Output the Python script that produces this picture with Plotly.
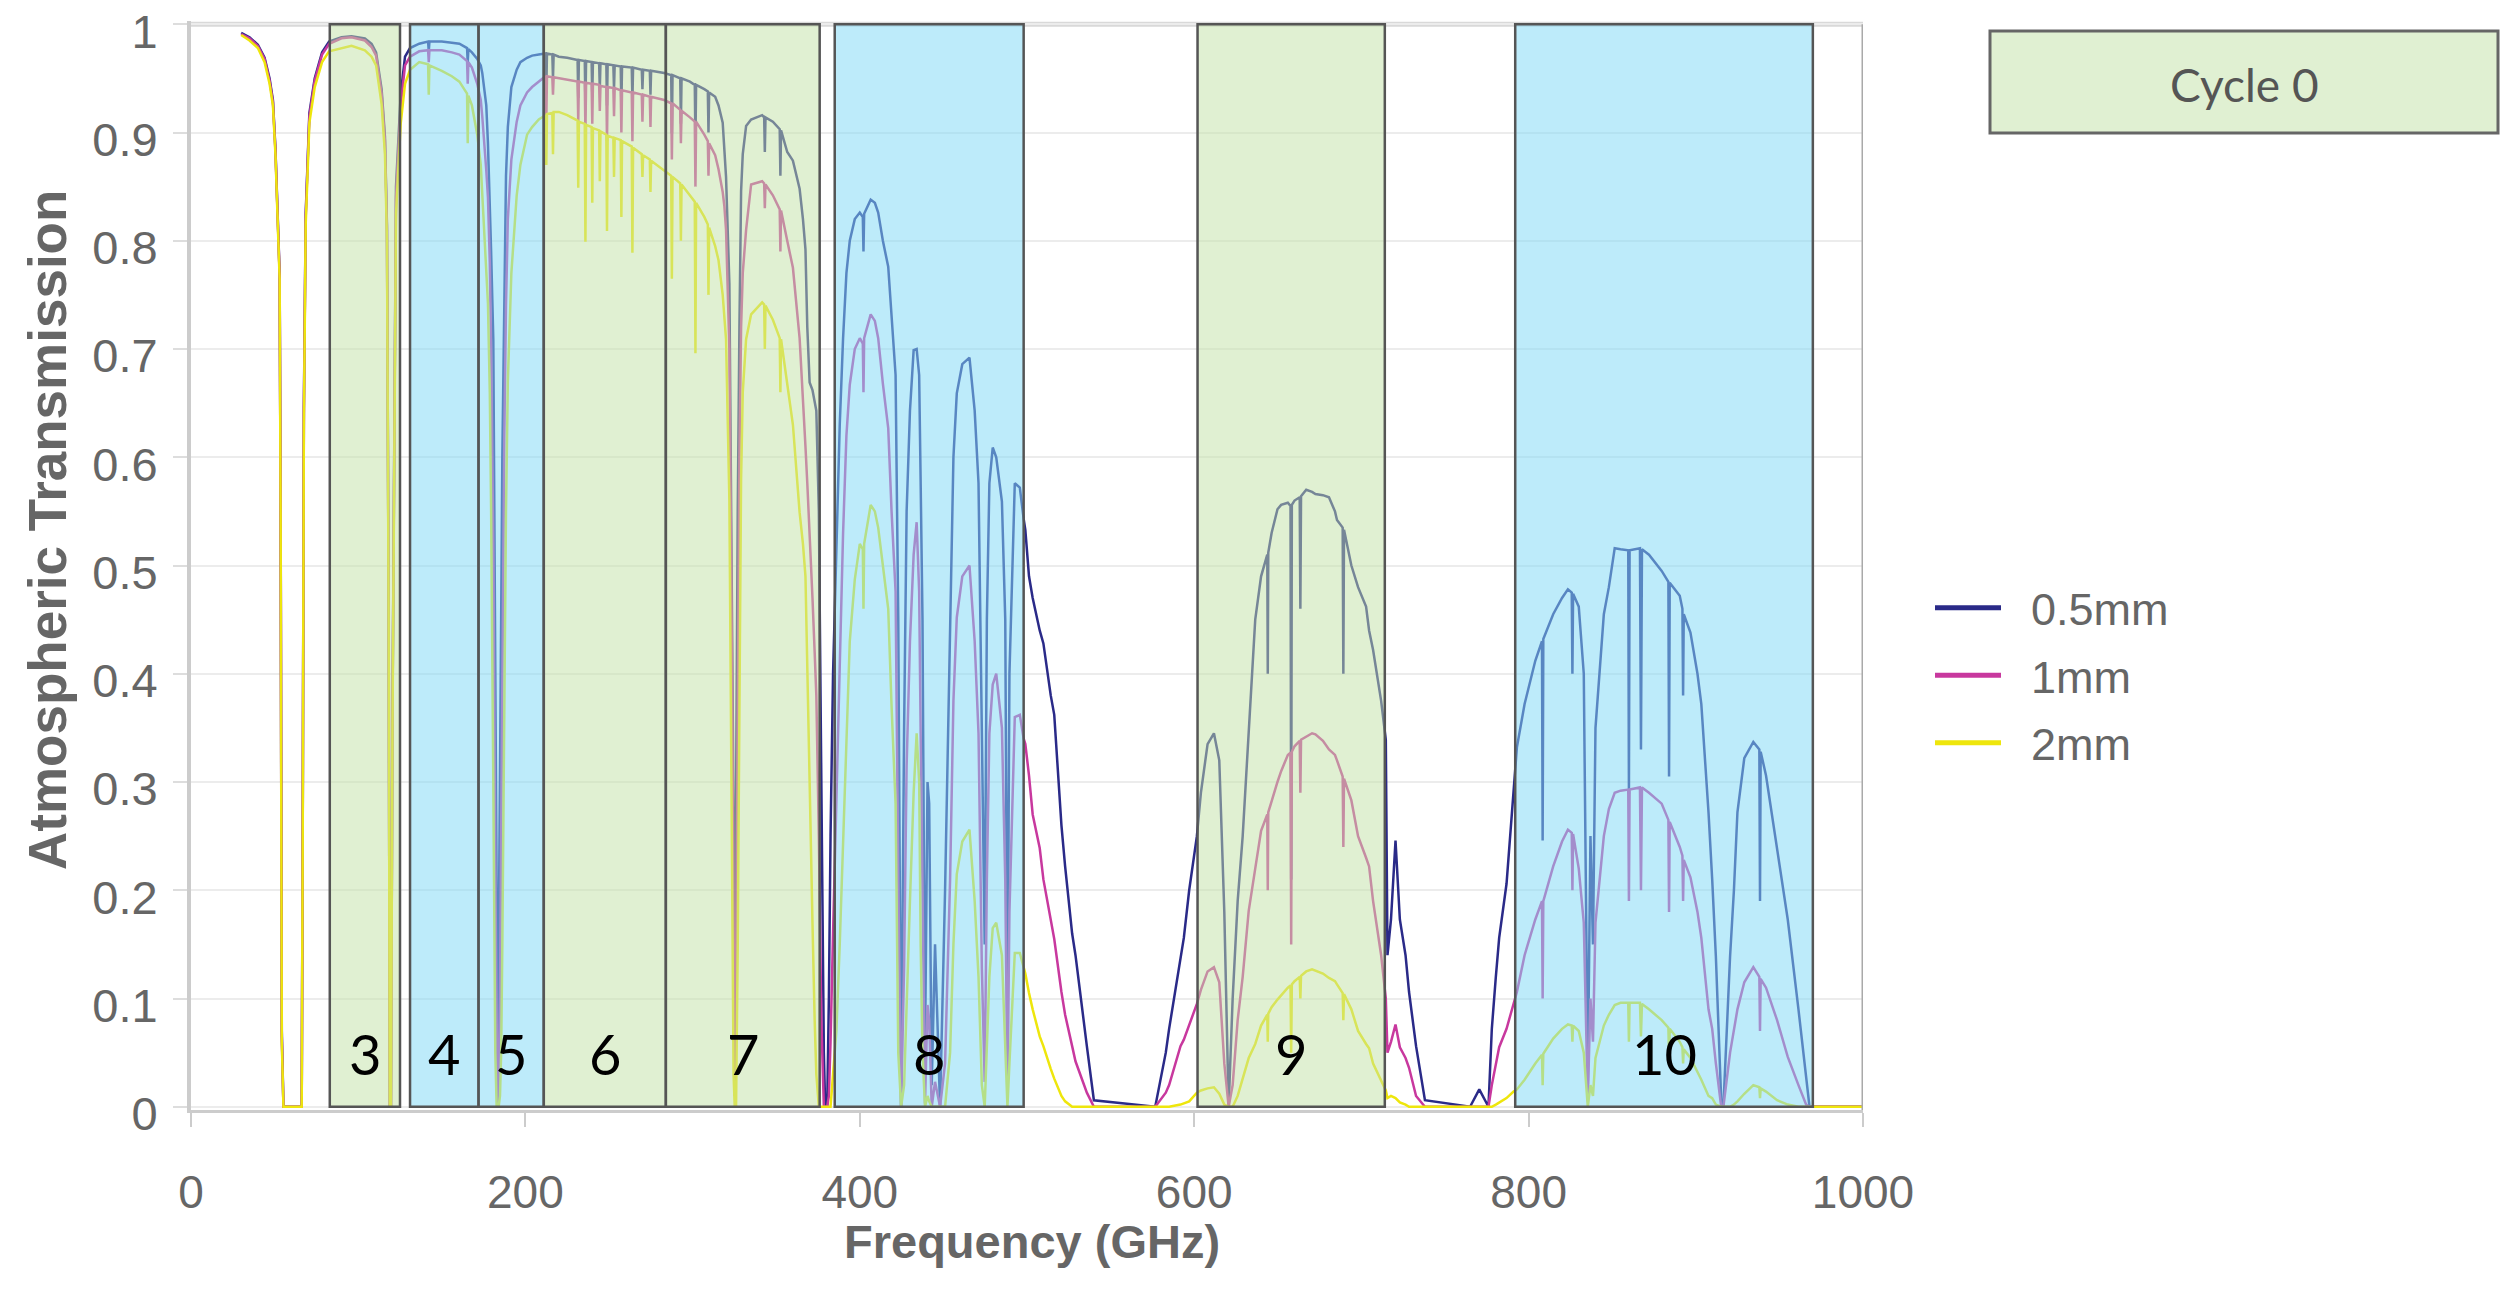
import plotly.graph_objects as go

# ---------------- data ----------------
freq_ghz = [
    30, 35, 40, 44, 47, 49, 50.5, 52, 53, 53.6, 54.3, 55.3, 66.2, 66.8, 67.5, 68.6, 70.8, 74, 78.4, 82.6,
    90, 96, 104, 108, 110.7, 114, 116, 117.2, 118.2, 118.9, 119.6, 120.5, 122.6, 125.4,
    128, 131, 136.5, 141.8, 142.2, 142.6, 150, 156, 160.5, 165.1, 165.5, 165.9, 168, 171.2, 173.3,
    174.2, 175.5, 176.6, 177.6, 178.7, 179.5, 180.8, 182, 182.8, 183.3, 184, 184.8, 185.5, 186.2, 187.4,
    188.4, 189.5, 191.6, 194.8, 197, 201, 204, 208, 212,
    212.5, 212.9, 216.1, 216.5, 216.9, 220, 225, 231.2, 231.6, 232,
    235.5, 235.9, 236.3, 239.6, 240, 240.4, 244.1, 244.5, 244.9, 248.4,
    248.8, 249.2, 252.6, 253, 253.4, 257, 257.4, 257.8, 263.6, 264,
    264.4, 269.6, 270, 270.4, 274.4, 274.8, 275.2, 283, 287.2, 287.6,
    288, 292.6, 293, 293.4, 298.4, 301.3, 301.7, 302.1, 307, 309.1,
    309.5, 309.9, 313.5, 315.5, 318, 319, 320, 322, 323.5, 324.5,
    325.2, 326, 327, 328, 329, 330, 332, 335, 341.6, 342.8,
    343.2, 343.6, 348, 352.1, 352.5, 352.9, 356.6, 360, 364, 366,
    367.5, 368.6, 370, 371.7, 373, 374, 375.5, 377, 378.5, 379.3,
    380.5, 381.5, 382.5, 384,
    386, 388, 390, 392, 394, 397, 400, 401.8, 402.2, 402.6,
    406.5, 409, 411, 413.8, 417, 419, 421.4, 423, 424.7, 426.5,
    428, 430, 432.2, 434, 435.5, 436.4, 437.5, 439, 440.5, 441.5,
    443, 445, 448, 451, 454, 456, 458, 461.3, 465.6, 468.7,
    471, 473, 474.7, 476, 477.5, 479.5, 481.6, 485, 487, 488.3,
    489.5, 492.7, 495.7, 498, 499, 501.2, 503.4, 507.6, 509.8, 514.2,
    516.3, 520.6, 522.8, 527, 529, 535.8, 540, 576.7, 583, 585,
    591.8, 593.8, 597, 601.6,
    604, 608, 611.8, 615, 618, 620.6, 623, 626, 629, 632.6,
    636.5, 640, 643.7, 644, 644.3, 646.3, 649.8, 652, 656, 657.6,
    658, 658.4, 660, 663.1, 663.5, 663.9, 667, 670.5, 672.5, 677,
    680.6, 684.2, 685.4, 688.8, 689.2, 689.6, 694, 698, 702.8, 704.6,
    707, 711.8, 714.6, 715.6, 717.7, 720.4, 723, 726.4, 728.5, 732.7,
    738, 765, 770.5, 776, 778, 780.4, 782.4, 786.8, 791, 793,
    797.6, 804, 808, 808.4, 808.8, 814.7, 820, 823.5, 825.8, 826.2,
    826.6, 830, 833, 835.4, 837, 838.5, 840, 845, 848, 851.5,
    855, 859.6, 860, 860.4, 866.6, 867.2, 867.8, 872, 879.6, 883.6,
    884, 884.4, 890.4, 892, 892.4, 892.8, 896.8, 901, 903.3, 907.6,
    909.8, 912, 915.2, 916.5, 920.5, 922.8, 924.9, 929, 934.4, 938,
    938.4, 938.8, 942, 948.6, 955, 961.4, 966, 968, 1000,
]

t_05mm = [
    .992, .988, .981, .969, .950, .930, .885, .815, .770, .560, .070, 0, 0, .250, .645, .825, .918, .950, .974, .984,
    .988, .989, .987, .982, .974, .940, .896, .815, .465, 0, 0, .365, .850, .935,
    .970, .978, .982, .984, .975, .984, .984, .983, .982, .978, .965, .977, .974, .968, .962,
    .955, .940, .925, .890, .842, .790, .709, .450, .200, 0, .120, .300, .450, .600, .775,
    .860, .905, .942, .958, .965, .969, .971, .972, .973,
    .938, .973, .972, .950, .972, .970, .969, .967, .932, .967,
    .966, .925, .966, .965, .935, .965, .964, .940, .964, .963,
    .925, .963, .962, .940, .962, .961, .925, .961, .960, .930,
    .960, .958, .940, .958, .957, .935, .957, .955, .953, .899,
    .953, .950, .908, .950, .947, .944, .892, .944, .940, .938,
    .900, .937, .933, .925, .909, .885, .859, .760, .500, .270,
    .074, .300, .550, .720, .846, .880, .906, .912, .916, .914,
    .882, .914, .910, .903, .860, .902, .882, .874, .848, .820,
    .792, .720, .669, .662, .650, .643, .550, .262, .050, 0,
    0, .100, .250, .400,
    .520, .630, .710, .770, .800, .820, .826, .822, .790, .825,
    .838, .835, .826, .800, .776, .726, .676, .450, 0, .350,
    .550, .643, .699, .700, .676, .576, .450, .050, .300, .280,
    .020, .150, 0, .200, .450, .600, .659, .686, .692, .643,
    .576, .350, .150, .450, .576, .609, .600, .559, .450, .070,
    .400, .576, .572, .543, .533, .490, .470, .440, .428, .380,
    .362, .260, .222, .160, .140, .056, .006, 0, .050, .072,
    .140, .156, .200, .250,
    .290, .335, .345, .320, .180, 0, .100, .190, .250, .350,
    .450, .490, .510, .400, .512, .530, .552, .556, .558, .555,
    .210, .556, .560, .563, .460, .564, .570, .568, .566, .565,
    .563, .550, .542, .535, .400, .533, .500, .480, .462, .440,
    .422, .375, .339, .140, .173, .246, .173, .140, .106, .056,
    .006, 0, .016, 0, .072, .120, .156, .206, .289, .332,
    .372, .412, .430, .246, .432, .455, .470, .478, .475, .400,
    .474, .462, .400, .023, .250, .150, .350, .455, .480, .516,
    .515, .514, .289, .514, .516, .330, .515, .510, .495, .485,
    .305, .484, .472, .460, .380, .455, .438, .400, .372, .272,
    .210, .139, .006, 0, .139, .200, .272, .322, .337, .330,
    .190, .328, .306, .239, .173, .090, .023, 0, 0,
]

t_1mm = [
    .991, .987, .980, .968, .948, .928, .883, .813, .768, .555, .065, 0, 0, .250, .640, .822, .915, .948, .972, .982,
    .987, .988, .985, .979, .971, .936, .892, .810, .460, 0, 0, .360, .840, .925,
    .962, .970, .975, .976, .965, .976, .976, .974, .972, .966, .945, .965, .960, .945, .930,
    .915, .890, .865, .840, .780, .700, .520, .220, .040, 0, .020, .100, .250, .400, .620,
    .740, .820, .875, .910, .925, .937, .942, .947, .952,
    .910, .952, .951, .935, .951, .950, .949, .947, .910, .947,
    .946, .900, .946, .945, .908, .945, .944, .920, .943, .942,
    .892, .942, .941, .915, .941, .939, .900, .939, .937, .892,
    .937, .935, .910, .935, .933, .905, .933, .930, .927, .875,
    .927, .921, .890, .920, .914, .910, .850, .910, .898, .892,
    .860, .890, .879, .866, .845, .832, .810, .700, .420, .140,
    .010, .120, .400, .600, .720, .770, .810, .852, .855, .853,
    .830, .852, .842, .829, .790, .828, .800, .775, .710, .659,
    .610, .576, .520, .470, .420, .380, .250, .080, 0, 0,
    0, .010, .060, .160,
    .280, .410, .530, .620, .667, .700, .710, .705, .660, .710,
    .732, .726, .710, .668, .627, .550, .476, .210, 0, .130,
    .315, .430, .510, .540, .476, .345, .210, .003, .094, .080,
    0, .023, 0, .040, .210, .375, .452, .490, .500, .430,
    .345, .128, .023, .210, .345, .390, .400, .350, .210, .010,
    .180, .360, .362, .340, .335, .306, .270, .239, .210, .173,
    .155, .106, .085, .056, .042, .013, 0, 0, .013, .020,
    .056, .062, .075, .095,
    .108, .125, .129, .115, .040, 0, .020, .080, .120, .181,
    .220, .255, .270, .200, .272, .283, .300, .310, .325, .327,
    .150, .328, .333, .338, .290, .339, .342, .345, .344, .338,
    .330, .325, .320, .305, .240, .303, .283, .250, .230, .222,
    .190, .140, .100, .050, .060, .076, .055, .045, .036, .010,
    0, 0, 0, 0, .020, .040, .055, .072, .096, .106,
    .140, .173, .190, .100, .190, .222, .245, .256, .253, .200,
    .252, .220, .170, .005, .100, .060, .170, .250, .275, .290,
    .292, .293, .190, .293, .295, .200, .295, .290, .280, .265,
    .180, .263, .240, .232, .190, .228, .212, .180, .156, .090,
    .072, .040, 0, 0, .050, .072, .090, .115, .129, .120,
    .070, .118, .110, .080, .046, .020, .002, 0, 0,
]

t_2mm = [
    .990, .985, .978, .965, .945, .925, .880, .810, .765, .550, .060, 0, 0, .240, .630, .815, .909, .942, .965, .975,
    .978, .980, .976, .970, .962, .926, .880, .800, .450, 0, 0, .350, .825, .908,
    .945, .958, .965, .963, .935, .962, .957, .952, .947, .936, .890, .934, .925, .898, .870,
    .842, .800, .770, .742, .660, .550, .300, .050, 0, 0, 0, .010, .050, .150, .400,
    .550, .670, .770, .842, .870, .898, .905, .912, .916,
    .870, .917, .918, .880, .919, .919, .916, .911, .849, .910,
    .908, .799, .907, .905, .835, .904, .902, .855, .901, .898,
    .809, .897, .895, .859, .895, .893, .822, .892, .887, .789,
    .886, .880, .859, .879, .875, .845, .874, .865, .860, .765,
    .859, .853, .800, .852, .842, .836, .696, .835, .822, .815,
    .750, .812, .795, .782, .750, .730, .709, .560, .280, .030,
    0, 0, .150, .400, .580, .660, .709, .732, .743, .741,
    .700, .740, .727, .710, .660, .709, .670, .630, .549, .520,
    .490, .400, .280, .170, .080, .030, 0, 0, 0, 0,
    0, 0, 0, .030,
    .070, .150, .250, .350, .430, .487, .520, .515, .460, .520,
    .556, .550, .535, .500, .460, .370, .280, .050, 0, .020,
    .100, .190, .290, .345, .300, .150, .050, 0, .010, .005,
    0, 0, 0, 0, .050, .150, .215, .245, .256, .190,
    .120, .020, 0, .050, .120, .165, .170, .140, .060, 0,
    .040, .142, .142, .130, .123, .105, .090, .065, .056, .035,
    .026, .010, .005, 0, 0, 0, 0, 0, 0, 0,
    .002, .003, .005, .013,
    .015, .017, .018, .012, .002, 0, 0, .010, .025, .045,
    .058, .075, .085, .060, .086, .092, .099, .103, .110, .112,
    .050, .113, .116, .120, .100, .121, .125, .127, .126, .123,
    .119, .116, .113, .105, .080, .104, .090, .070, .058, .054,
    .040, .025, .015, .008, .010, .008, .004, .002, 0, 0,
    0, 0, 0, 0, 0, .002, .004, .008, .014, .016,
    .025, .040, .048, .020, .049, .063, .072, .076, .075, .060,
    .075, .070, .050, 0, .020, .010, .045, .075, .085, .094,
    .096, .096, .060, .096, .096, .065, .095, .090, .080, .073,
    .045, .072, .060, .055, .040, .053, .045, .032, .025, .010,
    .008, .002, 0, 0, 0, .002, .005, .012, .020, .018,
    .008, .017, .014, .006, .002, 0, 0, 0, 0,
]

series_names = ["0.5mm", "1mm", "2mm"]
series_values = [t_05mm, t_1mm, t_2mm]
series_colors = ["#2A2A88", "#C8389E", "#EEE60C"]

band_names = ["3", "4", "5", "6", "7", "8", "9", "10"]
band_lo = [83, 131, 172, 211, 284, 385, 602, 792]
band_hi = [125, 172, 211, 284, 376, 498, 714, 970]
band_kind = ["green", "blue", "blue", "green", "green", "blue", "green", "blue"]

x_ticks = [0, 200, 400, 600, 800, 1000]
y_ticks = [0, 0.1, 0.2, 0.3, 0.4, 0.5, 0.6, 0.7, 0.8, 0.9, 1.0]
y_tick_text = ["0", "0.1", "0.2", "0.3", "0.4", "0.5", "0.6", "0.7", "0.8", "0.9", "1"]

for s in series_values:
    assert len(s) == len(freq_ghz), (len(s), len(freq_ghz))

# ---------------- layout geometry ----------------
# the page body has an 8px margin, so the figure is 16px smaller than the window
OFF = 8
W, H = 2508 - 2 * OFF, 1297 - 2 * OFF
ML, MT = 183, 13
PW, PH = 1672, 1089
MR = W - ML - PW
MB = H - MT - PH


def px_x(x):
    """page pixel -> paper x"""
    return (x - OFF - ML) / PW


def px_y(y):
    """page pixel -> paper y"""
    return (MT + PH - (y - OFF)) / PH


BAND_FILL = {"green": "rgba(193,225,165,0.5)", "blue": "rgba(130,217,245,0.53)"}
AXIS_FONT = "Liberation Sans, Arial, sans-serif"
LABEL_FONT = "Lato, Noto Sans, sans-serif"
NBSP = "\u00a0"

fig = go.Figure()

for i, (name, vals, col) in enumerate(zip(series_names, series_values, series_colors)):
    fig.add_trace(go.Scatter(
        x=freq_ghz, y=vals, mode="lines", name=name,
        line=dict(color=col, width=2.5), legendgroup=f"g{i}",
        showlegend=False, hoverinfo="skip",
    ))

# legend entries (thicker sample lines, as in the reference legend)
for i, (name, col) in enumerate(zip(series_names, series_colors)):
    fig.add_trace(go.Scatter(
        x=[None], y=[None], mode="lines", name=NBSP * 2 + name,
        line=dict(color=col, width=5), legendgroup=f"g{i}", showlegend=True,
    ))

shapes = []
# top frame line and right frame line
shapes.append(dict(type="line", xref="paper", yref="y", x0=0, x1=1, y0=1, y1=1,
                   line=dict(color="#d9d9d9", width=5), layer="below"))
shapes.append(dict(type="line", xref="x", yref="y", x0=1000, x1=1000, y0=-0.013, y1=1,
                   line=dict(color="#a9a9a9", width=3), layer="above"))

annotations = []
for name, lo, hi, kind in zip(band_names, band_lo, band_hi, band_kind):
    shapes.append(dict(type="rect", xref="x", yref="y", x0=lo, x1=hi, y0=0, y1=1,
                       fillcolor=BAND_FILL[kind], line=dict(color="#555555", width=2.5),
                       layer="above"))
    annotations.append(dict(x=(lo + hi) / 2, y=0.049, xref="x", yref="y", text=name,
                            showarrow=False, xanchor="center", yanchor="middle",
                            font=dict(family=LABEL_FONT, size=56, color="#000000")))

# Cycle 0 box
shapes.append(dict(type="rect", xref="paper", yref="paper",
                   x0=px_x(1990), x1=px_x(2498), y0=px_y(133), y1=px_y(31),
                   fillcolor="#E0F0D2", line=dict(color="#666666", width=3), layer="above"))
annotations.append(dict(x=px_x(2244), y=px_y(84), xref="paper", yref="paper", text="Cycle 0",
                        showarrow=False, xanchor="center", yanchor="middle",
                        font=dict(family=LABEL_FONT, size=46, color="#555555")))

# axis titles
annotations.append(dict(x=px_x(47), y=px_y(530), xref="paper", yref="paper",
                        text="<b>Atmospheric Transmission</b>", textangle=-90, showarrow=False,
                        xanchor="center", yanchor="middle",
                        font=dict(family=AXIS_FONT, size=53, color="#666666")))
annotations.append(dict(x=px_x(1032), y=px_y(1242), xref="paper", yref="paper",
                        text="<b>Frequency (GHz)</b>", showarrow=False,
                        xanchor="center", yanchor="middle",
                        font=dict(family=AXIS_FONT, size=47, color="#666666")))

fig.update_layout(
    width=W, height=H,
    margin=dict(l=ML, r=MR, t=MT, b=MB, pad=0, autoexpand=False),
    paper_bgcolor="white", plot_bgcolor="white",
    shapes=shapes, annotations=annotations,
    showlegend=True,
    legend=dict(x=px_x(1930), y=px_y(572), xanchor="left", yanchor="top",
                font=dict(family=AXIS_FONT, size=45, color="#666666"),
                itemwidth=66, tracegroupgap=6, traceorder="grouped",
                bgcolor="rgba(0,0,0,0)", borderwidth=0),
    xaxis=dict(range=[0, 1000], tickvals=x_ticks, ticks="outside", ticklen=14,
               tickwidth=2, tickcolor="#cccccc", showline=True, linecolor="#cccccc",
               linewidth=3, showgrid=False, zeroline=False, automargin=False,
               tickfont=dict(family=AXIS_FONT, size=46, color="#666666"),
               ticklabelstandoff=26),
    yaxis=dict(range=[-0.003, 1.003], tickvals=y_ticks, ticktext=y_tick_text, ticks="outside",
               ticklen=14, tickwidth=2, tickcolor="#dddddd", showline=True,
               linecolor="#cccccc", linewidth=4, showgrid=True, gridcolor="#ececec",
               gridwidth=2, zeroline=False, ticklabeloverflow="allow", automargin=False,
               tickfont=dict(family=AXIS_FONT, size=47, color="#666666"),
               ticklabelstandoff=6, ticklabelshift=7),
)

fig.write_html("out.html")
